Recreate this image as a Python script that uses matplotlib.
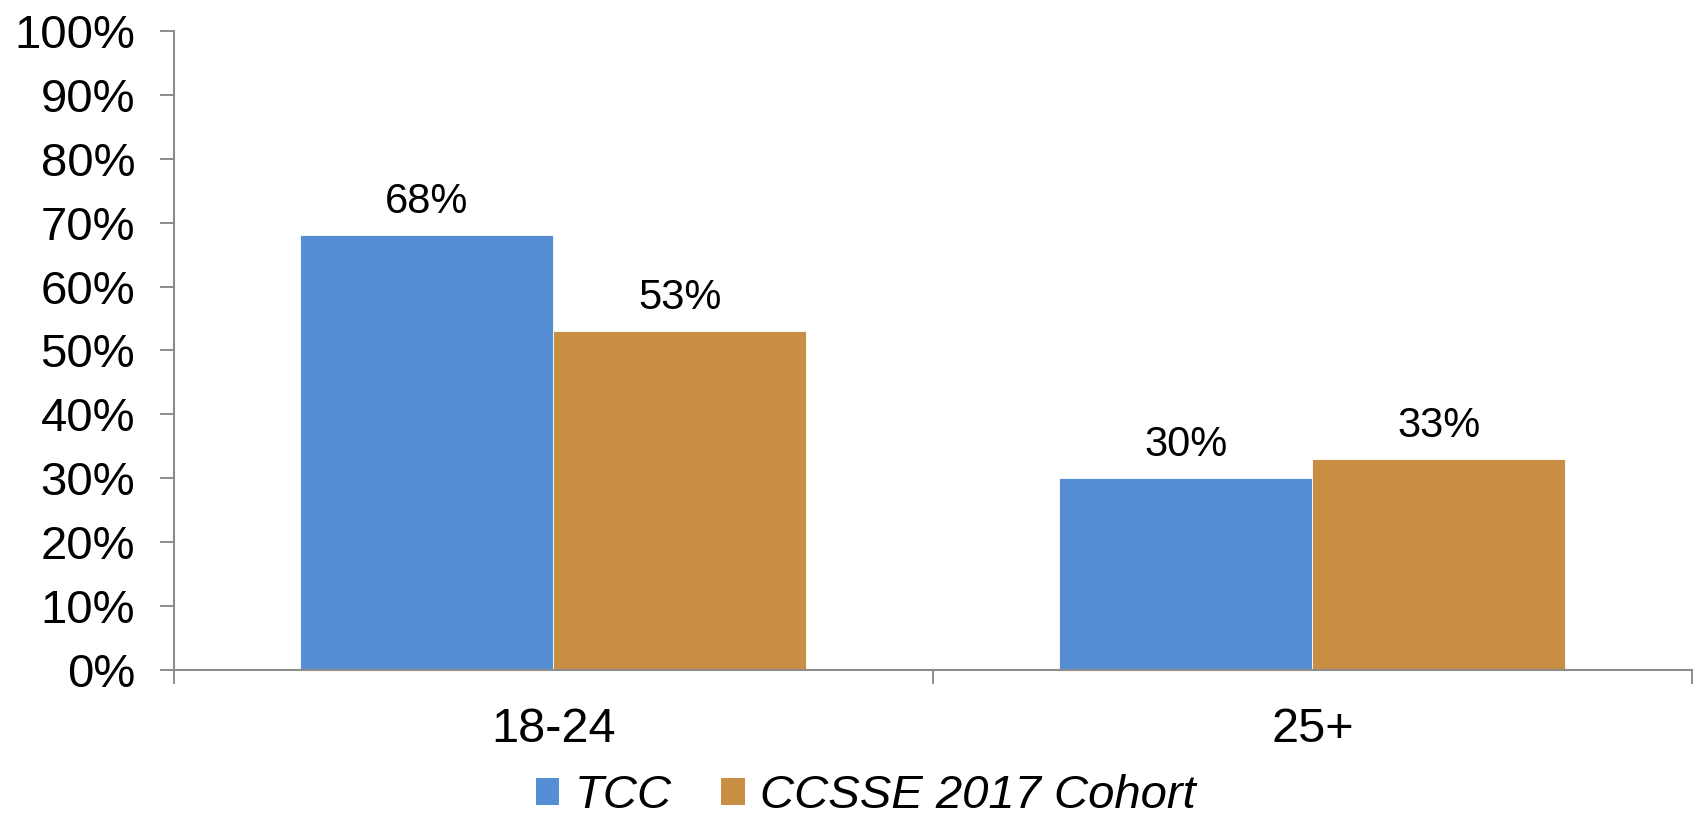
import matplotlib
matplotlib.use("Agg")
import matplotlib.pyplot as plt
from matplotlib.patches import Patch
import numpy as np

categories = ["18-24", "25+"]
series_names = ["TCC", "CCSSE 2017 Cohort"]
tcc = [68, 30]
ccsse = [53, 33]
y_ticks = [0, 10, 20, 30, 40, 50, 60, 70, 80, 90, 100]

colors = ["#558ED5", "#C88E44"]
axis_gray = "#8C8C8C"

plt.rcParams["font.family"] = ["Liberation Sans", "DejaVu Sans"]

fig = plt.figure(figsize=(16.94, 8.24), dpi=100)
ax = fig.add_axes([0.1027, 0.1869, 0.8961, 0.7755])

x = np.arange(len(categories)) + 0.5
width = 1 / 3
for i, (vals, col) in enumerate(zip([tcc, ccsse], colors)):
    offs = (i - 0.5) * width
    bars = ax.bar(x + offs, vals, width=width, color=col,
                  edgecolor="white", linewidth=0.6, zorder=2)
    for b, v in zip(bars, vals):
        ax.annotate(f"{v}%", (b.get_x() + b.get_width() / 2, v),
                    xytext=(0, 9.5), textcoords="offset points",
                    ha="center", va="bottom", fontsize=30, color="black")

ax.set_xlim(0, len(categories))
ax.set_ylim(0, 100)

ax.set_yticks(y_ticks)
ax.set_yticklabels([f"{t}%" for t in y_ticks])
ax.tick_params(axis="y", direction="out", length=10, width=1.4,
               color=axis_gray, labelsize=34, pad=18)

# category boundaries carry the tick marks; labels sit at the centres
ax.set_xticks(np.arange(len(categories) + 1))
ax.set_xticklabels([])
ax.tick_params(axis="x", which="major", direction="out", length=10,
               width=1.4, color=axis_gray)
ax.set_xticks(x, minor=True)
ax.set_xticklabels(categories, minor=True)
ax.tick_params(axis="x", which="minor", length=0, labelsize=35, pad=27)

for s in ["top", "right"]:
    ax.spines[s].set_visible(False)
for s in ["left", "bottom"]:
    ax.spines[s].set_color(axis_gray)
    ax.spines[s].set_linewidth(1.5)

handles = [Patch(facecolor=c, edgecolor="none") for c in colors]
fig.legend(handles, series_names, loc="center", bbox_to_anchor=(0.511, 0.034),
           ncol=2, frameon=False, prop={"size": 34, "style": "italic"},
           handlelength=0.5, handleheight=0.5, handletextpad=0.32,
           columnspacing=1.05, borderpad=0, borderaxespad=0)

fig.savefig("out.png", dpi=100, facecolor="white")
